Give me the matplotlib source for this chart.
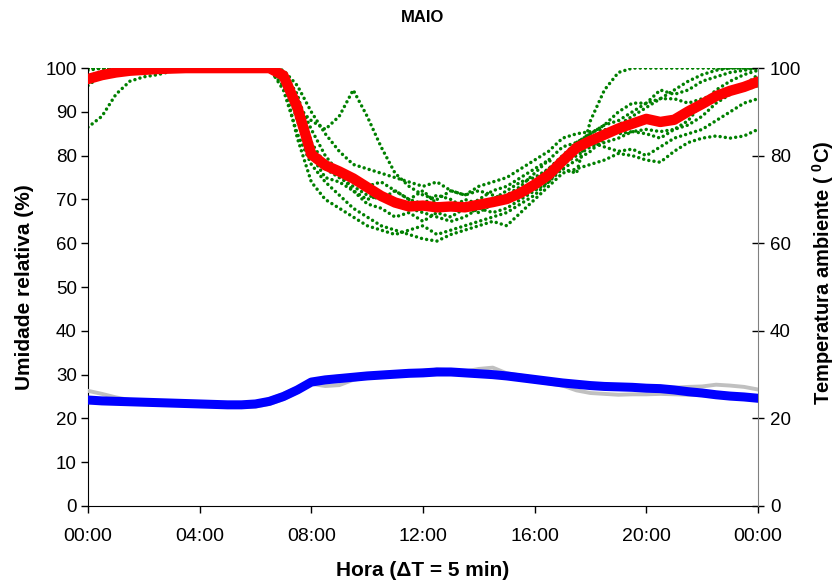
import matplotlib
matplotlib.use("Agg")
import matplotlib.pyplot as plt

plt.rcParams['font.family'] = ['Liberation Sans', 'DejaVu Sans']
plt.rcParams['mathtext.fontset'] = 'custom'
plt.rcParams['mathtext.rm'] = 'Liberation Sans:bold'
plt.rcParams['mathtext.bf'] = 'Liberation Sans:bold'

# time of day in hours (30 min sampling of the readings)
hours = [0.0, 0.5, 1.0, 1.5, 2.0, 2.5, 3.0, 3.5, 4.0, 4.5, 5.0, 5.5, 6.0, 6.5,
         7.0, 7.5, 8.0, 8.5, 9.0, 9.5, 10.0, 10.5, 11.0, 11.5, 12.0, 12.5,
         13.0, 13.5, 14.0, 14.5, 15.0, 15.5, 16.0, 16.5, 17.0, 17.5, 18.0,
         18.5, 19.0, 19.5, 20.0, 20.5, 21.0, 21.5, 22.0, 22.5, 23.0, 23.5, 24.0]

# daily relative humidity (%) - green dots
rh_day_a = [100, 100, 100, 100, 100, 100, 100, 100, 100, 100, 100, 100, 100, 100,
            97, 90, 82, 77, 75, 73, 71, 70, 72, 70, 69, 71, 70, 68, 70, 72, 73, 75, 77, 79,
            77, 76, 88, 95, 99, 100, 100, 100, 100, 100, 100, 100, 100, 100, 100]
rh_day_b = [100, 100, 100, 100, 100, 100, 100, 100, 100, 100, 100, 100, 100, 100,
            99, 93, 86, 80, 76, 72, 69, 68, 66, 67, 65, 67, 66, 68, 67, 69, 71, 73, 76, 79,
            82, 83, 85, 87, 90, 92, 92, 95, 94, 95, 97, 98, 99, 99.5, 100]
rh_day_c = [86.5, 89, 94, 97, 98, 98.5, 99.3, 100, 100, 100, 100, 100, 100, 100,
            95, 85, 78, 74, 71, 68, 66, 64, 63, 62, 61, 60.5, 62, 63, 64, 65, 64, 67, 70, 73,
            76, 77, 78, 79, 80.5, 80, 79, 78.5, 81, 83, 84, 84.5, 84, 84.5, 86]
rh_day_d = [96, 98.5, 99.5, 100, 100, 100, 100, 100, 100, 100, 100, 100, 100, 99.5,
            96, 91, 88, 86, 89, 95, 89, 82, 76, 73, 71, 70, 72, 71, 73, 74, 75, 77, 79, 81,
            84, 85, 85.5, 86, 85, 85.5, 86, 85.5, 86, 87, 89, 92, 94, 96, 98.5]
rh_day_e = [100, 100, 100, 100, 100, 100, 100, 100, 100, 100, 100, 100, 100, 100,
            98, 88, 80, 75, 74, 72, 70, 71, 69, 68, 67, 66, 65, 66, 68, 67, 68, 70, 72, 74,
            78, 80, 82, 83, 84, 85.5, 85, 84, 86, 88, 92, 95, 97, 98.5, 99.5]
rh_day_f = [100, 100, 100, 100, 100, 100, 100, 100, 100, 100, 100, 100, 100, 100,
            99.5, 96, 90, 85, 81, 78, 77, 76, 75, 74, 73, 74, 72, 71, 72, 71, 70, 72, 74, 77,
            79, 81, 83, 82, 81, 81.5, 80, 82, 84, 85, 86, 88, 90, 92, 93]
rh_day_g = [99.5, 100, 100, 100, 100, 100, 100, 100, 100, 100, 100, 100, 100, 100,
            97, 84, 74, 70, 68, 66, 64, 63, 62, 63, 64, 62, 63, 64, 65, 66, 67, 69, 71, 74,
            77, 79, 81, 84, 87, 89, 91, 93, 95, 97, 98.5, 99.5, 100, 100, 100]
rh_day_h = [100, 100, 100, 100, 100, 100, 100, 100, 100, 100, 100, 100, 100, 100,
            99, 94, 83, 78, 77, 75, 73, 74, 72, 70, 72, 69, 68, 70, 69, 70, 72, 74, 75, 77,
            80, 83, 85, 87, 88, 90, 92, 93, 93, 92, 93, 94, 94.5, 95, 96]

# mean relative humidity (%) - red
rh_mean = [97.5, 98.4, 99.0, 99.4, 99.6, 99.8, 99.9, 100, 100, 100, 100, 100, 100, 100,
           98.3, 91.0, 80.3, 77.8, 76.4, 74.8, 72.8, 70.8, 69.3, 68.4,
           68.6, 68.2, 68.4, 68.2, 68.8, 69.4, 70.1, 71.5, 73.4, 75.6,
           78.8, 81.8, 83.4, 84.8, 86.2, 87.3, 88.4, 87.7, 88.2, 90.1,
           91.8, 93.6, 94.8, 95.7, 96.9]

# daily temperature (C) - gray
temp_day_1 = [26.3, 25.6, 24.8, 24.2, 23.9, 23.8, 23.7, 23.6, 23.5, 23.4,
              23.3, 23.3, 23.6, 24.4, 25.6, 27.0, 28.6, 29.2, 29.6, 29.3,
              29.9, 30.2, 30.4, 30.8, 30.6, 31.2, 31.0, 30.7, 31.3, 31.6,
              30.3, 29.8, 29.3, 28.8, 28.4, 28.0, 27.6, 27.3, 27.4, 27.2,
              27.3, 27.1, 27.0, 27.2, 27.3, 27.7, 27.5, 27.2, 26.6]
temp_day_2 = [24.0, 23.8, 23.6, 23.5, 23.4, 23.3, 23.1, 23.0, 22.9, 22.8,
              22.7, 22.6, 22.7, 23.3, 24.4, 26.0, 27.9, 27.4, 27.6, 28.8,
              29.4, 29.6, 29.9, 30.0, 30.3, 30.4, 30.5, 30.1, 29.9, 29.6,
              29.3, 28.9, 28.5, 28.0, 27.5, 26.4, 25.8, 25.6, 25.4, 25.5,
              25.5, 25.6, 25.5, 25.4, 25.3, 25.1, 24.9, 24.7, 24.4]
temp_day_3 = [24.6, 24.3, 24.0, 23.8, 23.7, 23.5, 23.4, 23.3, 23.2, 23.1,
              23.0, 23.0, 23.2, 23.8, 25.1, 26.8, 28.5, 29.1, 29.4, 29.7,
              30.1, 30.3, 30.6, 30.5, 30.9, 31.1, 30.8, 30.6, 30.5, 30.2,
              29.9, 29.5, 29.0, 28.6, 28.3, 27.9, 27.6, 27.5, 27.3, 27.2,
              27.1, 26.9, 26.6, 26.2, 25.9, 25.6, 25.3, 25.1, 24.9]

# mean temperature (C) - blue
temp_mean = [24.2, 24.0, 23.9, 23.8, 23.7, 23.6, 23.5, 23.4, 23.3, 23.2,
             23.1, 23.1, 23.3, 23.9, 25.0, 26.5, 28.3, 28.8, 29.1, 29.4,
             29.7, 29.9, 30.1, 30.3, 30.4, 30.6, 30.6, 30.4, 30.2, 30.0,
             29.7, 29.3, 28.9, 28.5, 28.1, 27.8, 27.5, 27.3, 27.2, 27.1,
             26.9, 26.8, 26.5, 26.1, 25.8, 25.4, 25.1, 24.9, 24.6]

x_ticks = [0, 4, 8, 12, 16, 20, 24]
x_tick_labels = ['00:00', '04:00', '08:00', '12:00', '16:00', '20:00', '00:00']
rh_ticks = [0, 10, 20, 30, 40, 50, 60, 70, 80, 90, 100]
temp_ticks = [0, 20, 40, 60, 80, 100]

fig = plt.figure(figsize=(8.38, 5.87), dpi=100)
fig.subplots_adjust(left=0.105, right=0.9045, bottom=0.138, top=0.884)
ax = fig.add_subplot(111)
ax2 = ax.twinx()

for day in [rh_day_a, rh_day_b, rh_day_c, rh_day_d, rh_day_e, rh_day_f, rh_day_g, rh_day_h]:
    ax.plot(hours, day, color='#008000', linewidth=2.5, linestyle=(0, (0.01, 1.5)),
            dash_capstyle='round', zorder=2)
ax.plot(hours, rh_mean, color='#FF0000', linewidth=7.5, solid_capstyle='round',
        solid_joinstyle='round', zorder=3)

for day in [temp_day_1, temp_day_2, temp_day_3]:
    ax2.plot(hours, day, color='#C0C0C0', linewidth=2.8, solid_joinstyle='round', zorder=2)
ax2.plot(hours, temp_mean, color='#0000FF', linewidth=6.5, solid_capstyle='round',
         solid_joinstyle='round', zorder=3)

ax.set_xlim(0, 24)
ax.set_ylim(0, 100)
ax2.set_ylim(0, 100)
ax.set_xticks(x_ticks)
ax.set_xticklabels(x_tick_labels, fontsize=14)
ax.set_yticks(rh_ticks)
ax.set_yticklabels([str(v) for v in rh_ticks], fontsize=13.5)
ax2.set_yticks(temp_ticks)
ax2.set_yticklabels([str(v) for v in temp_ticks], fontsize=13.5)

ax.tick_params(axis='x', direction='out', length=5, width=1, pad=11)
ax.tick_params(axis='y', direction='out', length=5, width=1, pad=3)
ax2.tick_params(axis='y', direction='inout', length=9, width=1, pad=4)

for a in (ax, ax2):
    a.spines['top'].set_visible(False)
ax2.spines['left'].set_visible(False)
ax2.spines['bottom'].set_visible(False)
ax2.spines['right'].set_color('#808080')
ax.spines['right'].set_visible(False)
ax.spines['left'].set_color('black')
ax.spines['bottom'].set_color('black')

fig.text(423 / 838, 1 - 17 / 587, 'MAIO', ha='center', va='center',
         fontsize=12, fontweight='bold')
fig.text(25 / 838, 1 - 287 / 587, 'Umidade relativa (%)', rotation=90,
         ha='center', va='center', fontsize=15, fontweight='bold')
fig.text(823 / 838, 1 - 273 / 587, r'Temperatura ambiente ( $^{0}$C)', rotation=90,
         ha='center', va='center', fontsize=14.5, fontweight='bold')
fig.text(423 / 838, 1 - 571 / 587, 'Hora (ΔT = 5 min)', ha='center', va='center',
         fontsize=15, fontweight='bold')

fig.savefig('out.png', dpi=100)
